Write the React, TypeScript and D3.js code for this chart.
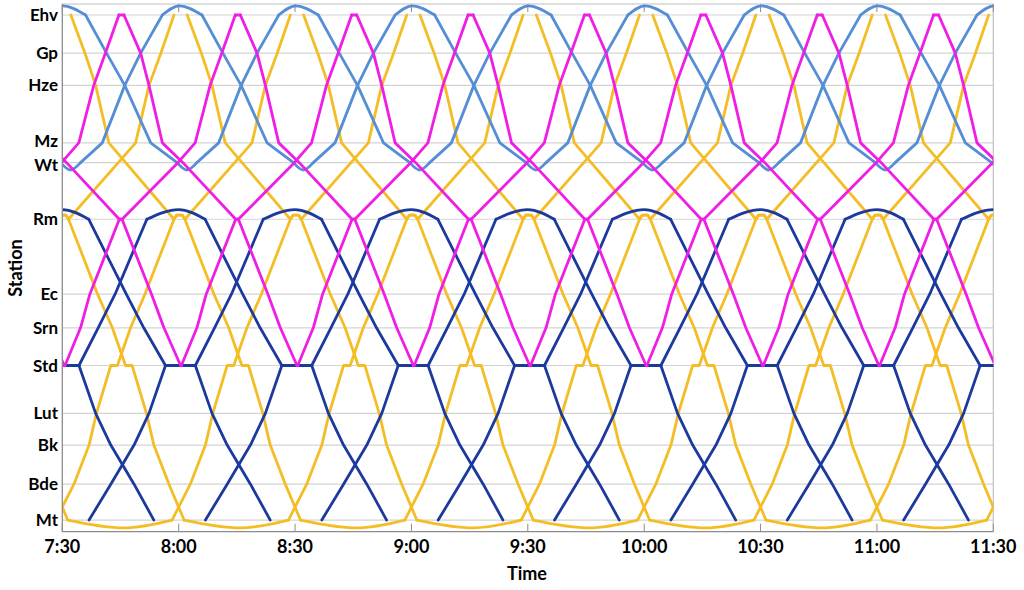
import React from "react";
import * as d3 from "d3";

// ---------- data ----------
const stations = ["Ehv", "Gp", "Hze", "Mz", "Wt", "Rm", "Ec", "Srn", "Std", "Lut", "Bk", "Bde", "Mt"];
const stationKm = [0, 8.3, 15.3, 27.8, 32.1, 44.4, 60.7, 68.0, 76.2, 86.6, 93.5, 102.0, 109.8];

const timeTickLabels = ["7:30", "8:00", "8:30", "9:00", "9:30", "10:00", "10:30", "11:00", "11:30"];
const timeTickMinutes = [0, 30, 60, 90, 120, 150, 180, 210, 240]; // minutes after 7:30
const cycleMinutes = 30;

// Light blue: Ehv – Wt
const lightDownStops = ["Ehv", "Gp", "Hze", "Mz", "Wt"];
const lightDownTimes = [6.0, 11.4, 16.1, 22.8, 29.6];
const lightUpStops = ["Wt", "Mz", "Hze", "Gp", "Ehv"];
const lightUpTimes = [4.7, 10.3, 16.1, 20.2, 25.8];
const lightTurnStops = ["Ehv", "Wt"];
const lightTurnTimes = [[25.8, 30.2, 36.0], [29.6, 32.1, 34.7]];
const lightTurnDepth = [2.0, -1.6];

// Magenta: Ehv – Std
const magDownStops = ["Ehv", "Gp", "Hze", "Mz", "Wt", "Rm", "Rm", "Ec", "Srn", "Std"];
const magDownTimes = [45.9, 50.2, 52.35, 55.8, 61.1, 74.7, 75.4, 83.0, 86.2, 90.5];
const magUpStops = ["Std", "Srn", "Ec", "Rm", "Rm", "Wt", "Mz", "Hze", "Gp", "Ehv"];
const magUpTimes = [30.7, 34.7, 37.1, 44.7, 45.4, 59.8, 64.25, 68.1, 71.1, 74.6];
const magTurnStops = ["Ehv", "Std"];
const magTurnTimes = [[74.6, 75.25, 75.9], [90.5, 90.6, 90.7]];
const magTurnDepth = [0, 0];

// Yellow: Ehv – Mt
const yelDownStops = ["Ehv", "Gp", "Hze", "Mz", "Rm", "Rm", "Ec", "Srn", "Std", "Std", "Lut", "Bk", "Bde", "Mt"];
const yelDownTimes = [32.2, 35.85, 38.6, 42.0, 58.8, 61.6, 69.1, 72.9, 76.3, 78.0, 81.7, 83.6, 87.5, 91.4];
const yelUpStops = ["Mt", "Bde", "Bk", "Lut", "Std", "Std", "Srn", "Ec", "Rm", "Rm", "Mz", "Hze", "Gp", "Ehv"];
const yelUpTimes = [28.3, 33.0, 36.9, 38.8, 42.5, 44.2, 47.6, 51.3, 58.8, 61.6, 78.9, 82.35, 85.4, 88.8];
const yelTurnStops = ["Mt"];
const yelTurnTimes = [[91.4, 105.9, 118.3]];
const yelTurnDepth = [-1.7];
const yelDwellLiftStops = ["Rm"];
const yelDwellLift = [0.9];

// Dark blue: Rm – Mt
const dbDownStops = ["Rm", "Ec", "Srn", "Std", "Std", "Lut", "Bk", "Bde", "Mt"];
const dbDownTimes = [6.8, 16.5, 21.0, 26.6, 34.3, 38.6, 42.5, 48.5, 53.6];
const dbUpStops = ["Mt", "Bde", "Bk", "Lut", "Std", "Std", "Srn", "Ec", "Rm"];
const dbUpTimes = [36.9, 42.5, 48.5, 52.35, 56.6, 64.3, 69.25, 73.6, 81.8];
const dbTurnStops = ["Rm"];
const dbTurnTimes = [[81.8, 90.0, 96.8]];
const dbTurnDepth = [2.1];

type Service = {
  color: string;
  runs: { stops: string[]; times: number[] }[];
  turnStops: string[];
  turnTimes: number[][];
  turnDepth: number[];
  liftStops: string[];
  lifts: number[];
};

const services: Service[] = [
  {
    color: "#F5BD25",
    runs: [
      { stops: yelDownStops, times: yelDownTimes },
      { stops: yelUpStops, times: yelUpTimes },
    ],
    turnStops: yelTurnStops,
    turnTimes: yelTurnTimes,
    turnDepth: yelTurnDepth,
    liftStops: yelDwellLiftStops,
    lifts: yelDwellLift,
  },
  {
    color: "#1C3A9E",
    runs: [
      { stops: dbDownStops, times: dbDownTimes },
      { stops: dbUpStops, times: dbUpTimes },
    ],
    turnStops: dbTurnStops,
    turnTimes: dbTurnTimes,
    turnDepth: dbTurnDepth,
    liftStops: [],
    lifts: [],
  },
  {
    color: "#558ED5",
    runs: [
      { stops: lightDownStops, times: lightDownTimes },
      { stops: lightUpStops, times: lightUpTimes },
    ],
    turnStops: lightTurnStops,
    turnTimes: lightTurnTimes,
    turnDepth: lightTurnDepth,
    liftStops: [],
    lifts: [],
  },
  {
    color: "#F01EE4",
    runs: [
      { stops: magDownStops, times: magDownTimes },
      { stops: magUpStops, times: magUpTimes },
    ],
    turnStops: magTurnStops,
    turnTimes: magTurnTimes,
    turnDepth: magTurnDepth,
    liftStops: [],
    lifts: [],
  },
];

// ---------- chart ----------
const W = 1024;
const H = 590;
const plotLeft = 62.3;
const plotRight = 993.3;
const plotTop = 4;
const plotBottom = 531.7;

export default function App() {
  const x = d3.scaleLinear().domain([0, 240]).range([plotLeft, plotRight]);
  const y = d3.scaleLinear().domain([-2.39, 112.33]).range([plotTop, plotBottom]);
  const kmOf = (s: string) => stationKm[stations.indexOf(s)];

  const straight = d3
    .line<[number, number]>()
    .x((d) => x(d[0]))
    .y((d) => y(d[1]));
  const rounded = d3
    .line<[number, number]>()
    .x((d) => x(d[0]))
    .y((d) => y(d[1]))
    .curve(d3.curveMonotoneX);

  const ks = d3.range(-5, 10);
  const font = "Lato, 'Open Sans', 'DejaVu Sans', sans-serif";

  const paths: { d: string; color: string; key: string }[] = [];
  services.forEach((svc, si) => {
    ks.forEach((k) => {
      const off = k * cycleMinutes;
      svc.runs.forEach((run, ri) => {
        const pts: [number, number][] = [];
        run.stops.forEach((s, i) => {
          const t = run.times[i] + off;
          const km = kmOf(s);
          if (i > 0 && run.stops[i - 1] === s) {
            const li = svc.liftStops.indexOf(s);
            if (li >= 0) {
              const a = run.times[i - 1] + off;
              const dd = t - a;
              pts.push([a + dd * 0.25, km - svc.lifts[li]]);
              pts.push([t - dd * 0.25, km - svc.lifts[li]]);
            }
          }
          pts.push([t, km]);
        });
        paths.push({ d: straight(pts) || "", color: svc.color, key: `r${si}-${ri}-${k}` });
      });
      svc.turnStops.forEach((s, ti) => {
        const [a, m, b] = svc.turnTimes[ti];
        const km = kmOf(s);
        const pts: [number, number][] = [
          [a + off, km],
          [m + off, km - svc.turnDepth[ti]],
          [b + off, km],
        ];
        paths.push({ d: rounded(pts) || "", color: svc.color, key: `t${si}-${ti}-${k}` });
      });
    });
  });

  // small label nudges for the two close stations
  const labelNudge = (s: string) => (s === "Mz" ? -2 : s === "Wt" ? 2 : 0);

  return (
    <svg
      width={W}
      height={H}
      style={{ position: "absolute", left: 0, top: 0, background: "#fff" }}
    >
      <defs>
        <clipPath id="plotClip">
          <rect x={plotLeft} y={0} width={plotRight - plotLeft} height={plotBottom + 2} />
        </clipPath>
      </defs>
      {/* gridlines */}
      {stations.map((s, i) => (
        <line
          key={"g" + s}
          x1={plotLeft}
          x2={plotRight}
          y1={y(stationKm[i])}
          y2={y(stationKm[i])}
          stroke="#D4D4D4"
          strokeWidth={1.2}
        />
      ))}
      {/* frame */}
      <line x1={plotLeft} x2={plotRight} y1={plotTop} y2={plotTop} stroke="#BFBFBF" strokeWidth={1.2} />
      <line x1={plotRight} x2={plotRight} y1={plotTop} y2={plotBottom} stroke="#BFBFBF" strokeWidth={1.2} />
      {timeTickMinutes.map((m) => (
        <g key={"tk" + m}>
          <line x1={x(m)} x2={x(m)} y1={plotTop} y2={plotTop + 8} stroke="#8C8C8C" strokeWidth={1} />
          <line x1={x(m)} x2={x(m)} y1={plotBottom - 8} y2={plotBottom} stroke="#8C8C8C" strokeWidth={1} />
        </g>
      ))}
      {/* train paths */}
      <g clipPath="url(#plotClip)" fill="none" strokeWidth={2.8} strokeLinejoin="round" strokeLinecap="round">
        {paths.map((p) => (
          <path key={p.key} d={p.d} stroke={p.color} />
        ))}
      </g>
      {/* axes */}
      <line x1={plotLeft} x2={plotLeft} y1={plotTop} y2={plotBottom} stroke="#8C8C8C" strokeWidth={1.3} />
      <line x1={plotLeft} x2={plotRight} y1={plotBottom} y2={plotBottom} stroke="#8C8C8C" strokeWidth={1.3} />
      {/* y labels */}
      {stations.map((s, i) => (
        <text
          key={"yl" + s}
          x={58}
          y={y(stationKm[i]) + labelNudge(s)}
          dy="0.36em"
          textAnchor="end"
          fontFamily={font}
          fontWeight={700}
          fontSize={17}
          fill="#000"
        >
          {s}
        </text>
      ))}
      {/* x labels */}
      {timeTickMinutes.map((m, i) => (
        <text
          key={"xl" + m}
          x={x(m)}
          y={553}
          textAnchor="middle"
          fontFamily={font}
          fontWeight={700}
          fontSize={18}
          fill="#000"
        >
          {timeTickLabels[i]}
        </text>
      ))}
      <text x={527} y={580} textAnchor="middle" fontFamily={font} fontWeight={700} fontSize={18} fill="#000">
        Time
      </text>
      <text
        transform="translate(22,268) rotate(-90)"
        textAnchor="middle"
        fontFamily={font}
        fontWeight={700}
        fontSize={18}
        fill="#000"
      >
        Station
      </text>
    </svg>
  );
}
